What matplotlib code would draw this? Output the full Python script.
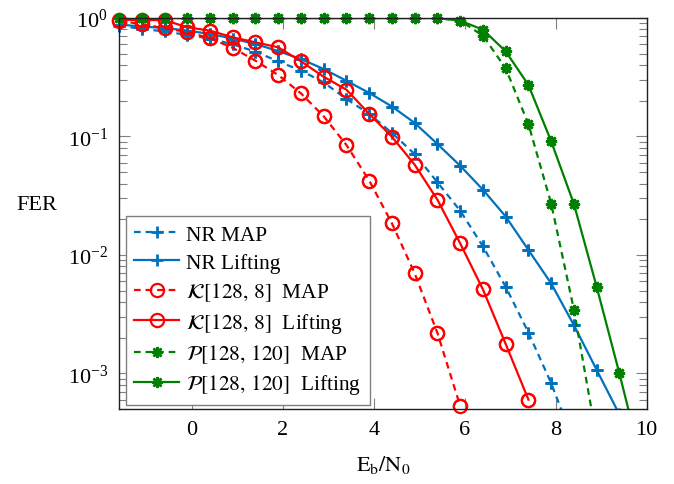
import matplotlib
matplotlib.use('Agg')
import matplotlib.pyplot as plt
import numpy as np

plt.rcParams['font.family'] = 'serif'
plt.rcParams['font.serif'] = ['Liberation Serif', 'DejaVu Serif']
plt.rcParams['mathtext.fontset'] = 'stix'

# Eb/N0 grid (dB)
ebn0 = [-1.6, -1.1, -0.6, -0.1, 0.4, 0.9, 1.4, 1.9, 2.4, 2.9, 3.4, 3.9,
        4.4, 4.9, 5.4, 5.9, 6.4, 6.9, 7.4, 7.9, 8.4, 8.9, 9.4, 9.9]

# FER values
nr_map = [0.86, 0.81, 0.77, 0.72, 0.67, 0.60, 0.52, 0.43, 0.36, 0.286, 0.207,
          0.155, 0.107, 0.071, 0.041, 0.0236, 0.0118, 0.00538, 0.00221,
          0.000826, 0.00026]
nr_lift = [0.88, 0.848, 0.823, 0.784, 0.733, 0.671, 0.603, 0.526, 0.45, 0.371,
           0.295, 0.233, 0.179, 0.130, 0.0863, 0.0566, 0.0355, 0.0211, 0.011,
           0.00574, 0.00255, 0.00107, 0.00045]
k_map = [0.944, 0.89, 0.818, 0.762, 0.674, 0.56, 0.436, 0.33, 0.231, 0.148,
         0.0846, 0.0424, 0.01845, 0.00698, 0.00219, 0.00053]
k_lift = [0.97, 0.96, 0.96, 0.835, 0.782, 0.687, 0.623, 0.566, 0.431, 0.319,
          0.248, 0.155, 0.0993, 0.0577, 0.0292, 0.0125, 0.00511, 0.00177,
          0.0006]
p_map = [1.0, 1.0, 1.0, 1.0, 1.0, 1.0, 1.0, 1.0, 1.0, 1.0, 1.0, 1.0, 1.0,
         1.0, 1.0, 0.95, 0.709, 0.376, 0.127, 0.0271, 0.00345, 0.00028]
p_lift = [1.0, 1.0, 1.0, 1.0, 1.0, 1.0, 1.0, 1.0, 1.0, 1.0, 1.0, 1.0, 1.0,
          1.0, 1.0, 0.949, 0.797, 0.523, 0.272, 0.091, 0.0269, 0.00538,
          0.000998, 0.00017]

labels = ['NR MAP', 'NR Lifting',
          r'$\mathcal{K}[128,\,8]$  MAP', r'$\mathcal{K}[128,\,8]$  Lifting',
          r'$\mathcal{P}[128,\,120]$  MAP', r'$\mathcal{P}[128,\,120]$  Lifting']

blue = '#0072BD'
red = '#FF0000'
green = '#008000'
dash = (0, (3, 2.2))
ymin, ymax = 5e-4, 1.0

fig = plt.figure(figsize=(6.74, 4.85), dpi=100)
ax = fig.add_axes([0.1766, 0.1546, 0.7829, 0.8062])

series = [
    (nr_map, blue, dash, '+', dict(markersize=9, markeredgewidth=2)),
    (nr_lift, blue, '-', '+', dict(markersize=9, markeredgewidth=2)),
    (k_map, red, dash, 'o', dict(markersize=9.5, markeredgewidth=1.6, fillstyle='none')),
    (k_lift, red, '-', 'o', dict(markersize=9.5, markeredgewidth=1.6, fillstyle='none')),
    (p_map, green, dash, (8, 2, 0), dict(markersize=8, markeredgewidth=1.8)),
    (p_lift, green, '-', (8, 2, 0), dict(markersize=8, markeredgewidth=1.8)),
]

for (y, c, ls, m, kw), lab in zip(series, labels):
    x = ebn0[:len(y)]
    ax.plot(x, y, color=c, linestyle=ls, linewidth=1.6, marker=m, label=lab, **kw)
    # markers are not clipped at the axes border (pgfplots style)
    xi = [a for a, b in zip(x, y) if b >= ymin]
    yi = [b for b in y if b >= ymin]
    ax.plot(xi, yi, color=c, linestyle='none', marker=m, clip_on=False, **kw)

ax.set_yscale('log')
ax.set_xlim(-1.6, 10)
ax.set_ylim(ymin, ymax)
ax.set_xticks([0, 2, 4, 6, 8, 10])

ax.tick_params(which='both', direction='in', top=True, right=True,
               color='#808080', labelsize=16)
ax.tick_params(which='major', length=8, width=0.8, pad=8)
ax.tick_params(which='minor', length=5.5, width=0.8)
ax.tick_params(axis='x', which='minor', bottom=False, top=False)
for s in ax.spines.values():
    s.set_linewidth(1.0)
    s.set_color('#202020')

ax.set_xlabel(r'$\mathrm{E}_\mathrm{b}/\mathrm{N}_0$', fontsize=16, labelpad=10)
ax.set_ylabel('FER', fontsize=16, rotation=0, labelpad=0)
ax.yaxis.set_label_coords(-0.155, 0.5)

leg = ax.legend(loc='lower left', bbox_to_anchor=(0.0127, 0.0102),
                borderaxespad=0, fontsize=15.4, numpoints=1, handlelength=2.1,
                handletextpad=0.33, labelspacing=0.36, borderpad=0.4,
                fancybox=False, framealpha=1, edgecolor='#808080')
leg.get_frame().set_linewidth(1.0)

fig.savefig('out.png', dpi=100)
